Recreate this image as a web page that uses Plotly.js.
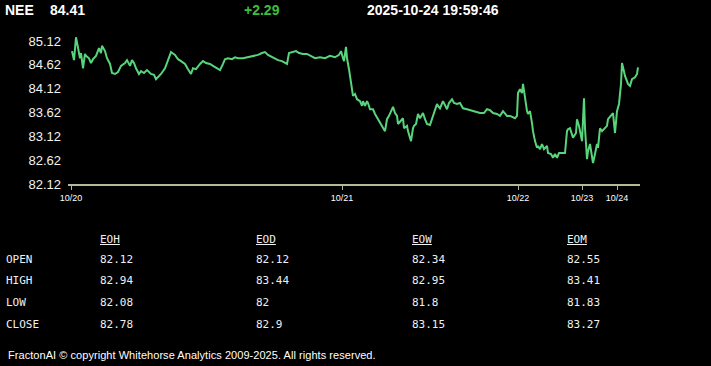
<!DOCTYPE html>
<html>
<head>
<meta charset="utf-8">
<script src="https://cdn.plot.ly/plotly-3.0.1.min.js"></script>
<style>
  html, body { margin:0; padding:0; background:#000; width:711px; height:366px; overflow:hidden; }
  #wrap { position:relative; width:711px; height:366px; }
  #chart { position:absolute; left:0; top:0; width:711px; height:366px; }
  .hdr { position:absolute; top:2px; font:bold 14px Arial, "Liberation Sans", sans-serif; color:#fff; line-height:16px; white-space:nowrap; }
  .tbl { position:absolute; font:11px "DejaVu Sans Mono", monospace; color:#f0f0f0; line-height:13px; white-space:nowrap; }
  .tbl.h { text-decoration:underline; }
  #foot { position:absolute; left:8px; top:348px; font:11px Arial, "Liberation Sans", sans-serif; color:#fff; line-height:14px; white-space:nowrap; letter-spacing:0.05px; }
</style>
</head>
<body>
<div id="wrap">
  <div id="chart"></div>
</div>
<script>
// ---- header ----
const symbol = "NEE";
const lastPrice = "84.41";
const change = "+2.29";
const stamp = "2025-10-24 19:59:46";

// ---- price series (time index, price) ----
const t = [4,6,8,10,12,13,15,17,18,21,23,25,28,31,33,34,37,39,42,44,47,50,53,57,59,62,64,66,68,71,73,76,79,83,86,88,91,93,97,100,103,107,110,113,117,120,123,125,128,132,135,138,
142,145,149,152,155,157,160,164,167,170,175,180,185,190,194,197,200,204,207,210,214,217,219,221,225,228,231,235,239,242,247,252,257,262,267,271,273,275,276,278,279,281,
284,285,287,289,292,294,295,297,299,300,302,305,307,310,314,317,319,321,324,325,327,329,330,333,335,336,339,340,343,345,346,348,350,352,355,357,359,362,365,367,369,370,372,375,377,379,381,384,386,389,392,395,399,402,407,412,416,419,422,425,429,432,435,437,439,442,445,447,449,
450,452,454,455,457,459,460,462,464,465,467,469,470,472,474,476,479,480,483,485,487,489,491,494,497,499,500,502,504,505,508,509,511,513,514,
516,517,519,520,522,524,525,527,529,530,532,534,536,539,540,543,545,547,549,
551,553,554,557,560,562,564,567,569,570];
const price = [84.91,84.72,85.20,84.97,84.76,84.87,84.55,84.85,84.81,84.76,84.66,84.74,84.81,84.97,84.87,85.02,84.91,84.76,84.64,84.45,84.43,84.47,84.60,84.66,84.72,84.60,84.72,84.66,84.55,84.43,84.49,84.45,84.51,84.43,84.41,84.32,84.39,84.43,84.55,84.74,84.89,84.83,84.74,84.70,84.64,84.53,84.43,84.55,84.53,84.64,84.70,84.66,
84.64,84.60,84.55,84.51,84.64,84.74,84.76,84.74,84.78,84.76,84.76,84.78,84.81,84.83,84.87,84.89,84.83,84.78,84.76,84.72,84.70,84.66,84.64,84.87,84.89,84.91,84.87,84.85,84.85,84.81,84.76,84.78,84.76,84.81,84.78,84.83,84.91,84.76,84.70,85.00,84.76,84.53,
84.03,83.97,84.01,83.90,83.86,83.76,83.86,83.76,83.86,83.82,83.69,83.69,83.59,83.48,83.34,83.23,83.48,83.55,83.69,83.74,83.61,83.55,83.38,83.44,83.50,83.29,83.34,83.23,83.02,83.29,83.34,83.38,83.59,83.50,83.61,83.48,83.38,83.36,83.55,83.65,83.80,83.76,83.71,83.86,83.76,83.69,83.82,83.90,83.82,83.80,83.82,83.71,83.69,83.67,83.65,83.61,83.61,83.69,83.67,83.61,83.59,83.55,83.65,83.61,83.55,83.55,83.53,83.50,83.55,
84.03,84.11,84.03,84.22,83.92,83.65,83.59,83.65,83.40,83.23,83.02,82.88,82.92,82.85,82.96,82.85,82.92,82.77,82.75,82.67,82.75,82.67,82.77,82.77,82.77,83.23,83.27,83.29,83.13,83.09,83.19,83.48,83.34,83.17,83.02,
83.92,83.29,82.64,82.81,82.96,82.67,82.56,82.75,82.96,82.88,83.29,83.23,83.27,83.34,83.48,83.55,83.61,83.19,83.65,
83.80,84.22,84.66,84.39,84.22,84.18,84.32,84.36,84.43,84.57];

// ---- axes ----
const dateTickPos = [3, 274, 450, 514, 549];
const dateTickText = ["10/20", "10/21", "10/22", "10/23", "10/24"];
const priceTicks = [82.12, 82.62, 83.12, 83.62, 84.12, 84.62, 85.12];

// ---- stats table ----
const periods = ["EOH", "EOD", "EOW", "EOM"];
const rowNames = ["OPEN", "HIGH", "LOW", "CLOSE"];
const openVals = ["82.12", "82.12", "82.34", "82.55"];
const highVals = ["82.94", "83.44", "82.95", "83.41"];
const lowVals = ["82.08", "82", "81.8", "81.83"];
const closeVals = ["82.78", "82.9", "83.15", "83.27"];
const footer = "FractonAI \u00A9 copyright Whitehorse Analytics 2009-2025. All rights reserved.";

const wrap = document.getElementById('wrap');
function addDiv(cls, text, left, top, extra) {
  const d = document.createElement('div');
  d.className = cls;
  d.textContent = text;
  d.style.left = left + 'px';
  d.style.top = top + 'px';
  if (extra) Object.assign(d.style, extra);
  wrap.appendChild(d);
  return d;
}
addDiv('hdr', symbol, 5, 2);
addDiv('hdr', lastPrice, 50, 2);
addDiv('hdr', change, 244, 2, {color:'#3cbf3c'});
addDiv('hdr', stamp, 367, 2);

const colX = [100, 256, 412, 567];
const rowY = [253, 274, 296, 318];
periods.forEach((p, i) => addDiv('tbl h', p, colX[i], 233));
const rows = [openVals, highVals, lowVals, closeVals];
rowNames.forEach((r, j) => {
  addDiv('tbl', r, 6, rowY[j]);
  rows[j].forEach((v, i) => addDiv('tbl', v, colX[i], rowY[j]));
});
const f = document.createElement('div');
f.id = 'foot'; f.textContent = footer; wrap.appendChild(f);

const trace = {
  x: t, y: price, type: 'scatter', mode: 'lines',
  line: {color: '#58d47c', width: 2},
  hoverinfo: 'skip'
};
const layout = {
  width: 711, height: 366,
  margin: {l: 68, r: 71, t: 33, b: 182, pad: 0},
  paper_bgcolor: 'rgba(0,0,0,0)', plot_bgcolor: '#000',
  showlegend: false,
  xaxis: {
    range: [0, 572], showgrid: false, zeroline: false,
    showline: true, linecolor: '#b3ba98', linewidth: 2,
    ticks: 'outside', ticklen: 4, tickwidth: 1, tickcolor: '#b3ba98',
    tickvals: dateTickPos, ticktext: dateTickText,
    tickfont: {family: 'Arial, Liberation Sans, sans-serif', size: 9, color: '#ffffff'},
    fixedrange: true
  },
  yaxis: {
    range: [82.12, 85.29], showgrid: false, zeroline: false, showline: false,
    ticks: '', tickvals: priceTicks, ticktext: priceTicks.map(v => v.toFixed(2)),
    tickfont: {family: 'Arial, Liberation Sans, sans-serif', size: 13, color: '#f2f2f2'},
    ticklabelstandoff: 6,
    fixedrange: true
  }
};
Plotly.newPlot('chart', [trace], layout, {staticPlot: true, displayModeBar: false});
</script>
</body>
</html>
